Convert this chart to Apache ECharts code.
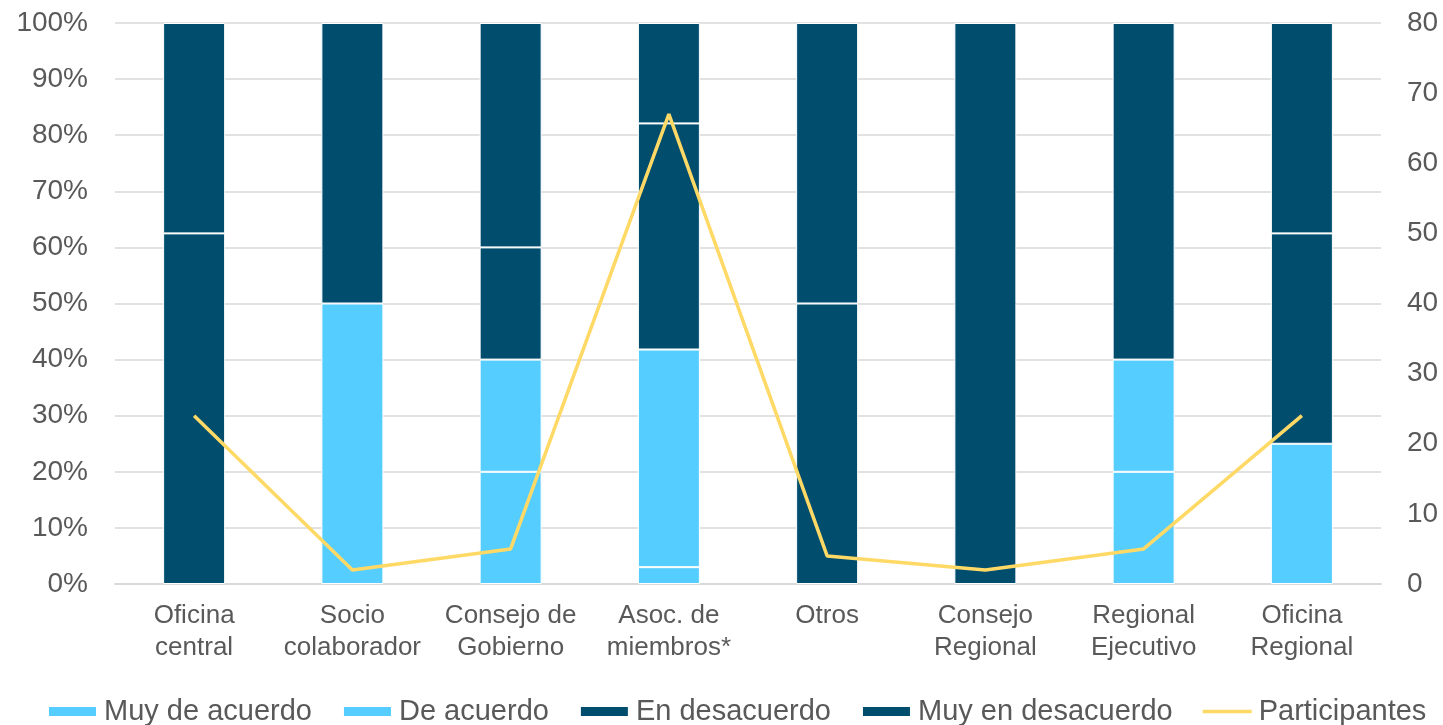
<!DOCTYPE html>
<html>
<head>
<meta charset="utf-8">
<script src="https://cdn.jsdelivr.net/npm/echarts@6/dist/echarts.min.js"></script>
<style>
  html, body { margin: 0; padding: 0; background: #fff; }
  #chart { width: 1443px; height: 725px; }
</style>
</head>
<body>
<div id="chart"></div>
<script>
// categories and values
const categories = [
  "Oficina\ncentral", "Socio\ncolaborador", "Consejo de\nGobierno", "Asoc. de\nmiembros*",
  "Otros", "Consejo\nRegional", "Regional\nEjecutivo", "Oficina\nRegional"
];
const muyDeAcuerdo = [0, 0, 20, 3.0, 0, 0, 20, 0];
const deAcuerdo = [0, 50, 20, 38.8, 0, 0, 20, 25];
const enDesacuerdo = [62.5, 50, 20, 40.3, 50, 100, 60, 37.5];
const muyEnDesacuerdo = [37.5, 0, 40, 17.9, 50, 0, 0, 37.5];
const participantes = [24, 2, 5, 67, 4, 2, 5, 24];

const leftTicks = { min: 0, max: 100, interval: 10 };
const rightTicks = { min: 0, max: 80, interval: 10 };

const lightBlue = "#55CDFF";
const darkBlue = "#004D6E";
const yellow = "#FFD966";
const textGrey = "#595959";

function barSeries(name, data, color) {
  return {
    name: name,
    type: "bar",
    stack: "total",
    barWidth: 62,
    data: data.map(v => (v ? v : "-")),
    itemStyle: {
      color: color,
      borderColor: "#ffffff",
      borderWidth: 1
    }
  };
}

const chart = echarts.init(document.getElementById("chart"));
chart.setOption({
  animation: false,
  textStyle: { fontFamily: "Liberation Sans, Arial, sans-serif" },
  grid: { left: 115, right: 62, top: 23, bottom: 141 },
  legend: {
    left: 42,
    top: 692,
    itemWidth: 49,
    itemHeight: 11,
    itemGap: 30,
    textStyle: { fontSize: 29, color: textGrey, padding: [0, 0, 0, 2] },
    data: [
      { name: "Muy de acuerdo", icon: "rect" },
      { name: "De acuerdo", icon: "rect" },
      { name: "En desacuerdo", icon: "rect" },
      { name: "Muy en desacuerdo", icon: "rect" },
      { name: "Participantes", icon: "path://M0,0 L55,0 L55,4 L0,4 Z", itemStyle: { color: yellow } }
    ]
  },
  xAxis: {
    type: "category",
    data: categories,
    axisLine: { lineStyle: { color: "#D9D9D9", width: 2 } },
    axisTick: { show: false },
    axisLabel: {
      color: textGrey,
      fontSize: 26,
      lineHeight: 32,
      margin: 16,
      interval: 0
    }
  },
  yAxis: [
    {
      type: "value",
      min: leftTicks.min,
      max: leftTicks.max,
      interval: leftTicks.interval,
      axisLine: { show: false },
      axisTick: { show: false },
      splitLine: { lineStyle: { color: "#D9D9D9", width: 1.5 } },
      axisLabel: { color: textGrey, fontSize: 28, margin: 27, formatter: "{value}%" }
    },
    {
      type: "value",
      min: rightTicks.min,
      max: rightTicks.max,
      interval: rightTicks.interval,
      axisLine: { show: false },
      axisTick: { show: false },
      splitLine: { show: false },
      axisLabel: { color: textGrey, fontSize: 28, margin: 26 }
    }
  ],
  series: [
    barSeries("Muy de acuerdo", muyDeAcuerdo, lightBlue),
    barSeries("De acuerdo", deAcuerdo, lightBlue),
    barSeries("En desacuerdo", enDesacuerdo, darkBlue),
    barSeries("Muy en desacuerdo", muyEnDesacuerdo, darkBlue),
    {
      name: "Participantes",
      type: "line",
      yAxisIndex: 1,
      symbol: "none",
      data: participantes,
      lineStyle: { color: yellow, width: 3.5 },
      itemStyle: { color: yellow },
      z: 5
    }
  ]
});
</script>
</body>
</html>
